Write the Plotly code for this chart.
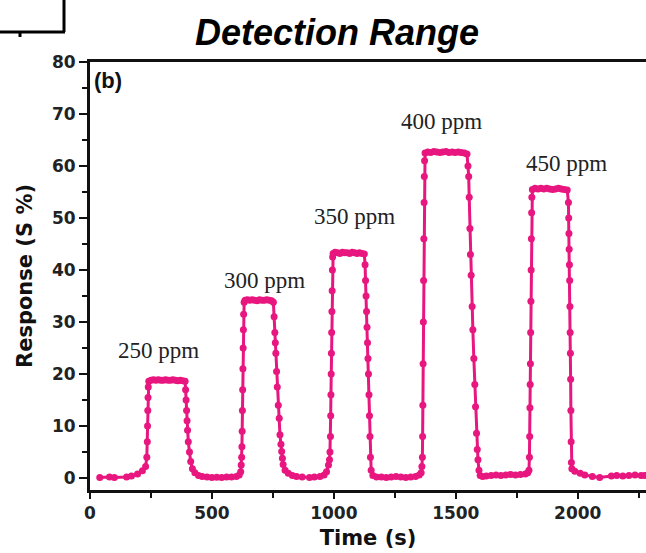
import plotly.graph_objects as go

# ---- data ----
c1_t = [40, 80, 100, 150, 170, 195, 215, 228, 233, 235, 236, 237, 238, 239, 241, 250, 260, 270, 280, 290,
        300, 310, 320, 330, 340, 350, 360, 370, 380, 390, 392, 394, 396, 398, 400, 403, 408, 413, 420, 430,
        445, 460, 480, 500, 520, 540, 560, 580, 600, 612]
c1_r = [0.1, 0.2, 0.1, 0.2, 0.4, 0.8, 1.4, 2.2, 4, 7, 10, 13, 15.5, 17.5, 18.6, 18.8, 18.9, 18.8, 18.9, 18.8,
        18.8, 18.9, 18.8, 18.8, 18.9, 18.8, 18.7, 18.8, 18.7, 18.6, 17, 15, 13, 11, 9.2, 7, 5, 3.2, 1.8, 1.0,
        0.5, 0.3, 0.2, 0.1, 0.15, 0.1, 0.2, 0.2, 0.3, 0.6]

c2_t = [618, 620, 622, 623, 624, 625, 626, 627, 628, 629, 630, 632, 636, 645, 655, 665, 675, 685, 695, 705,
        715, 725, 735, 745, 752, 755, 758, 760, 762, 765, 768, 772, 776, 779, 783, 786, 789, 792, 800, 813,
        830, 847, 870, 900, 920, 943, 960, 970, 978]
c2_r = [1.2, 2.5, 4, 6, 9, 13, 17, 21, 25, 28.5, 31.5, 33.8, 34.2, 34.3, 34.2, 34.3, 34.2, 34.1, 34.3, 34.2,
        34.2, 34.3, 34.2, 34.1, 33.8, 31, 28, 26, 24, 20.5, 17.5, 14, 11.5, 8.3, 6.5, 5.1, 3.8, 2.6, 1.5, 0.9,
        0.5, 0.3, 0.2, 0.1, 0.2, 0.3, 0.6, 1.2, 2.5]

c3_t = [982, 984, 986, 987, 988, 989, 990, 991, 992, 993, 994, 995, 997, 1005, 1015, 1025, 1035, 1045, 1055, 1065,
        1075, 1085, 1095, 1105, 1115, 1125, 1128, 1130, 1132, 1134, 1136, 1138, 1140, 1142, 1144, 1146, 1148, 1150,
        1153, 1160, 1175]
c3_r = [3.5, 5, 8, 12, 16, 20, 24, 28, 32, 36, 40, 42.5, 43.2, 43.4, 43.3, 43.2, 43.4, 43.3, 43.3, 43.2,
        43.4, 43.3, 43.2, 43.3, 43.2, 43.1, 41, 38, 35, 32, 29, 26, 23, 20, 16, 12, 8, 4,
        1.5, 0.5, 0.2]

b3_t = [1195, 1215, 1235, 1255, 1275, 1295, 1315, 1335, 1350]
b3_r = [0.2, 0.1, 0.2, 0.3, 0.2, 0.1, 0.2, 0.3, 0.6]

c4_t = [1358, 1361, 1363, 1364, 1365, 1366, 1367, 1368, 1369, 1370, 1371, 1372, 1374, 1385, 1397, 1410, 1422,
        1435, 1447, 1460, 1472, 1485, 1497, 1510, 1522, 1535, 1546, 1550, 1553, 1555, 1558, 1560, 1563, 1567,
        1570, 1574, 1578, 1581, 1585, 1588, 1591, 1595, 1600, 1610]
c4_r = [1.0, 2.2, 4, 8, 14, 22, 30, 38, 46, 53, 58, 61, 62.5, 62.7, 62.6, 62.8, 62.7,
        62.6, 62.7, 62.8, 62.6, 62.7, 62.6, 62.7, 62.6, 62.5, 62.3, 60, 58, 54, 48, 43, 39, 33,
        28.5, 23, 18, 13.7, 8.6, 5.5, 3.5, 1.5, 0.5, 0.3]

b4_t = [1625, 1645, 1665, 1685, 1705, 1725, 1745, 1765, 1785, 1795]
b4_r = [0.4, 0.5, 0.6, 0.5, 0.6, 0.7, 0.6, 0.7, 0.8, 1.0]

c5_t = [1800, 1802, 1803, 1804, 1805, 1806, 1807, 1808, 1809, 1810, 1811, 1812, 1814, 1825, 1837, 1849, 1861,
        1873, 1885, 1897, 1909, 1921, 1933, 1945, 1957, 1962, 1963, 1964, 1965, 1966, 1967, 1968, 1969, 1970,
        1971, 1972, 1973, 1974, 1976, 1988, 2010, 2029, 2060, 2090, 2138, 2160, 2185, 2210, 2235, 2260, 2275]
c5_r = [1.5, 4, 8, 13.5, 18, 22, 28, 34, 40, 46, 51, 54, 55.5, 55.7, 55.6, 55.7, 55.6,
        55.7, 55.6, 55.5, 55.6, 55.7, 55.6, 55.5, 55.4, 53, 50, 47, 44, 41, 38, 33, 28, 24,
        19, 13, 7, 3, 1.8, 1.3, 0.9, 0.6, 0.3, 0.1, 0.4, 0.5, 0.4, 0.5, 0.6, 0.5, 0.5]

labels = ["250 ppm", "300 ppm", "350 ppm", "400 ppm", "450 ppm"]
label_t = [279, 717, 1086, 1441, 1953]
label_r = [24.6, 38.0, 50.3, 68.5, 60.5]

x_ticks = [0, 500, 1000, 1500, 2000]
y_ticks = [0, 10, 20, 30, 40, 50, 60, 70, 80]

time_s = c1_t + c2_t + c3_t + b3_t + c4_t + b4_t + c5_t
response = c1_r + c2_r + c3_r + b3_r + c4_r + b4_r + c5_r

PINK = "#E8167F"

fig = go.Figure()
fig.add_trace(go.Scatter(
    x=time_s, y=response, mode="lines+markers",
    line=dict(color=PINK, width=3),
    marker=dict(color=PINK, size=7),
    showlegend=False,
))

for txt, t, r in zip(labels, label_t, label_r):
    fig.add_annotation(x=t, y=r, text=txt, showarrow=False,
                       font=dict(family="Liberation Serif", size=23, color="#222"))

fig.add_annotation(xref="paper", yref="paper", x=0.003, y=0.957, xanchor="left", yanchor="middle",
                   text="(b)", showarrow=False,
                   font=dict(family="Liberation Sans", size=22, color="#111", weight="bold"))

fig.add_annotation(xref="paper", yref="paper", x=(337 - 90) / 556, y=(490 - 32) / 428,
                   xanchor="center", yanchor="middle", text="<b><i>Detection Range</i></b>",
                   showarrow=False, font=dict(family="Liberation Sans", size=36, color="#000"))

# fragment of neighbouring panel at top-left
fig.add_shape(type="line", xref="paper", yref="paper",
              x0=(64 - 90) / 556, x1=(64 - 90) / 556, y0=(490 - 32) / 428, y1=(490 - 0) / 428,
              line=dict(color="#000", width=3))
fig.add_shape(type="line", xref="paper", yref="paper",
              x0=(0 - 90) / 556, x1=(65 - 90) / 556, y0=(490 - 32) / 428, y1=(490 - 32) / 428,
              line=dict(color="#000", width=3))
fig.add_shape(type="line", xref="paper", yref="paper",
              x0=(20 - 90) / 556, x1=(20 - 90) / 556, y0=(490 - 32) / 428, y1=(490 - 37) / 428,
              line=dict(color="#000", width=3))

fig.update_xaxes(
    range=[0, 2280], tickvals=x_ticks, ticks="outside", ticklen=6, tickwidth=2, tickcolor="#111",
    showline=True, linecolor="#111", linewidth=3, mirror=True, showgrid=False, zeroline=False,
    minor=dict(dtick=250, tick0=0, ticks="outside", ticklen=5, tickwidth=2, tickcolor="#111", showgrid=False),
    tickfont=dict(family="DejaVu Sans", size=17, color="#222", weight="bold"),
    title=dict(text="Time (s)", standoff=8,
               font=dict(family="DejaVu Sans", size=21, color="#111", weight="bold")),
)
fig.update_yaxes(
    range=[-2.3, 80], tickvals=y_ticks, ticks="outside", ticklen=8, tickwidth=2, tickcolor="#111",
    showline=True, linecolor="#111", linewidth=3, mirror=False, showgrid=False, zeroline=False,
    minor=dict(dtick=5, tick0=0, ticks="outside", ticklen=5, tickwidth=2, tickcolor="#111", showgrid=False),
    tickfont=dict(family="DejaVu Sans", size=17, color="#222", weight="bold"),
    title=dict(text="Response (S %)", standoff=14,
               font=dict(family="DejaVu Sans", size=21, color="#111", weight="bold")),
)

fig.update_layout(
    width=646, height=553,
    margin=dict(l=90, r=0, t=62, b=63),
    paper_bgcolor="white", plot_bgcolor="white",
)

fig.write_html("out.html")
